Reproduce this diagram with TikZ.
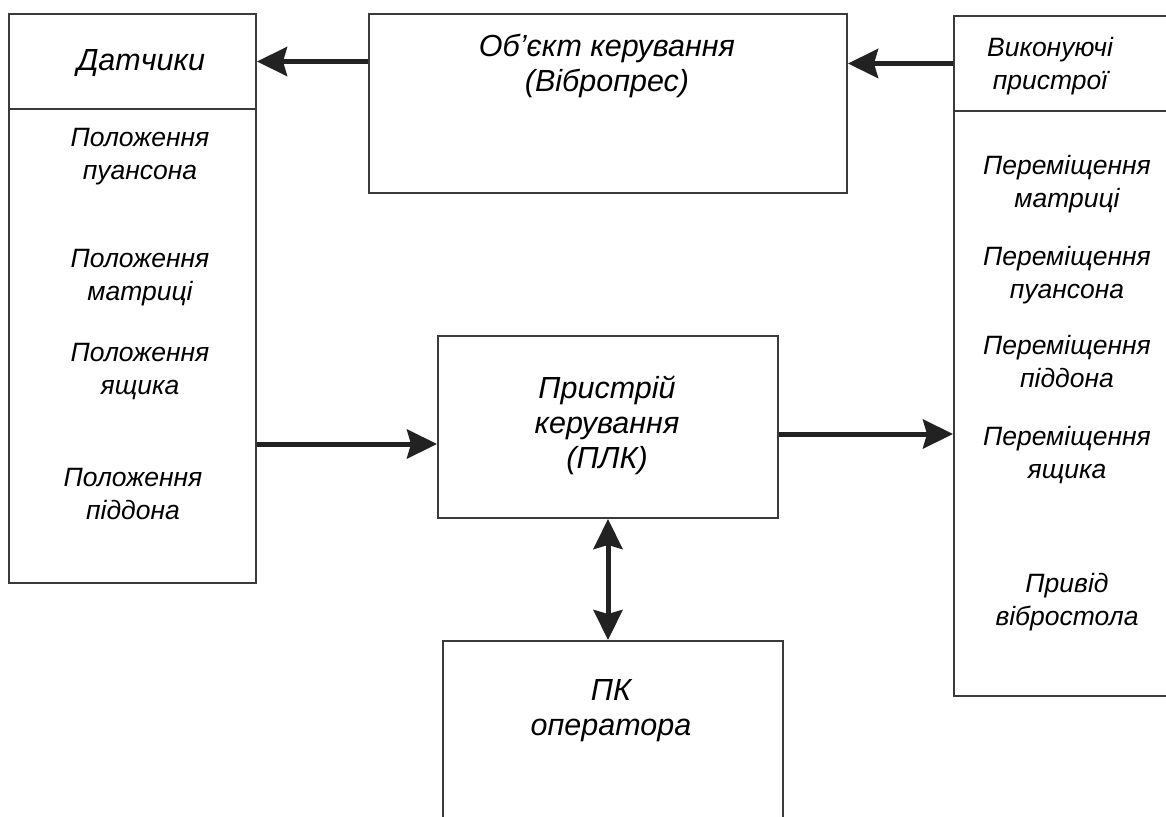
\documentclass[tikz,border=0pt]{standalone}
\usepackage{fontspec}
\setmainfont{Liberation Sans}
\usetikzlibrary{arrows.meta}
\definecolor{boxgray}{HTML}{3A3A3A}
\definecolor{arrgray}{HTML}{222222}
\tikzset{
  box/.style={draw=boxgray, line width=2pt, rectangle, inner sep=0pt, anchor=north west},
  lbl/.style={align=center, inner sep=0pt, font=\fontsize{26.5}{33}\selectfont\itshape},
  lblbig/.style={lbl, font=\fontsize{30.5}{35}\selectfont\itshape},
  arr/.style={draw=arrgray, line width=5pt, -{Stealth[length=30pt,width=29pt,inset=4pt]}},
  arrtwo/.style={draw=arrgray, line width=5pt, {Stealth[length=30pt,width=29pt,inset=4pt]}-{Stealth[length=30pt,width=29pt,inset=4pt]}}
}
\begin{document}
\begin{tikzpicture}[x=1pt,y=-1pt]
  \useasboundingbox (0,0) rectangle (1166,816);
  \clip (0,0) rectangle (1166,816);
  % boxes
  \node[box, minimum width=247pt, minimum height=95pt] (sens) at (8,13) {};
  \node[box, minimum width=247pt, minimum height=474pt] (senslist) at (8,108) {};
  \node[box, minimum width=478pt, minimum height=179pt] (obj) at (368,13) {};
  \node[box, minimum width=220pt, minimum height=95pt] (acts) at (953,15) {};
  \node[box, minimum width=220pt, minimum height=585pt] (actslist) at (953,110) {};
  \node[box, minimum width=340pt, minimum height=182pt] (plc) at (437,335) {};
  \node[box, minimum width=340pt, minimum height=200pt] (pc) at (442,640) {};
  % texts
  \node[lblbig] (tSens) at (141,63) {Датчики};
  \node[lbl] (tPunch) at (140,157) {Положення\\пуансона};
  \node[lbl] (tDie) at (140,278) {Положення\\матриці};
  \node[lbl] (tBox) at (140,372) {Положення\\ящика};
  \node[lbl] (tPallet) at (133,494) {Положення\\піддона};
  \node[lblbig] (tObj) at (607,66) {Об’єкт керування\\(Вібропрес)};
  \node[lbl] (tActs) at (1050,66) {Виконуючі\\пристрої};
  \node[lbl] (tMvDie) at (1067,184) {Переміщення\\матриці};
  \node[lbl] (tMvPunch) at (1067,275) {Переміщення\\пуансона};
  \node[lbl] (tMvPallet) at (1067,362) {Переміщення\\піддона};
  \node[lbl] (tMvBox) at (1067,455) {Переміщення\\ящика};
  \node[lbl] (tDrive) at (1067,602) {Привід\\вібростола};
  \node[lblbig] (tPlc) at (607,425) {Пристрій\\керування\\(ПЛК)};
  \node[lblbig] (tPc) at (611,711) {ПК\\оператора};
  % connectors
  \coordinate (inY) at ([yshift=-17pt]plc.west);
  \coordinate (outY) at ([yshift=-7pt]plc.east);
  \draw[arr] (obj.west |- sens.east) -- (sens.east);
  \draw[arr] (acts.west) -- (obj.east |- acts.west);
  \draw[arr] (senslist.east |- inY) -- (inY);
  \draw[arr] (outY) -- (actslist.west |- outY);
  \draw[arrtwo] (plc.south) -- (plc.south |- pc.north);
\end{tikzpicture}
\end{document}
